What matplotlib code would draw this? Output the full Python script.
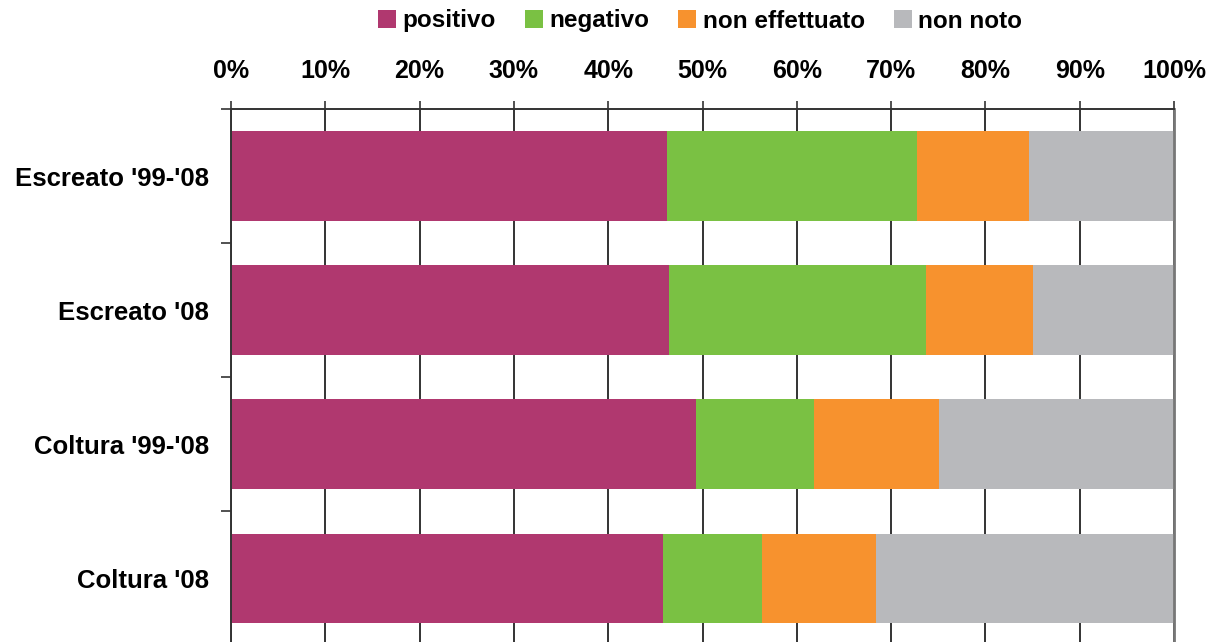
import numpy as np
import matplotlib
matplotlib.use("Agg")
import matplotlib.pyplot as plt
from matplotlib.patches import Patch

plt.rcParams['font.family'] = ['Liberation Sans', 'DejaVu Sans']
plt.rcParams['font.weight'] = 'bold'

# data (percent)
categories = ["Escreato '99-'08", "Escreato '08", "Coltura '99-'08", "Coltura '08"]
series_names = ["positivo", "negativo", "non effettuato", "non noto"]
positivo = [46.2, 46.4, 49.3, 45.8]
negativo = [26.5, 27.3, 12.5, 10.5]
non_effettuato = [11.9, 11.3, 13.3, 12.1]
non_noto = [15.4, 15.0, 24.9, 31.6]
colors = ["#B0386F", "#7AC143", "#F7922E", "#B8B9BC"]

values = [positivo, negativo, non_effettuato, non_noto]

fig = plt.figure(figsize=(12.13, 6.42), dpi=100)
ax = fig.add_axes([231 / 1213, -3.5 / 642, 943 / 1213, 536.5 / 642])

y = np.arange(len(categories))
left = np.zeros(len(categories))
for vals, name, col in zip(values, series_names, colors):
    ax.barh(y, vals, left=left, height=0.67, color=col, label=name, zorder=2)
    left += np.array(vals)

ax.set_xlim(0, 100)
ax.set_ylim(len(categories) - 0.5, -0.5)

# gridlines
ax.set_xticks(np.arange(0, 101, 10))
ax.set_xticklabels([f"{v}%" for v in range(0, 101, 10)])
ax.xaxis.tick_top()
ax.grid(axis='x', color='#333333', linewidth=1.4, zorder=1)
ax.set_axisbelow(True)
ax.tick_params(axis='x', which='major', direction='out', length=6, width=1.2,
               color='#333333', pad=13, labelsize=18)

ax.set_yticks(y)
ax.set_yticklabels(categories)
ax.set_yticks(np.arange(-0.5, len(categories) - 0.5, 1), minor=True)
ax.tick_params(axis='y', which='major', length=0, pad=16, labelsize=18.5)
ax.tick_params(axis='y', which='minor', direction='out', length=7, width=1.2, color='#333333')

for lab in ax.get_xticklabels() + ax.get_yticklabels():
    lab.set_fontweight('bold')

ax.spines['bottom'].set_visible(False)
ax.spines['left'].set_color('#333333')
ax.spines['left'].set_linewidth(1.4)
ax.spines['top'].set_color('#333333')
ax.spines['top'].set_linewidth(1.4)
ax.spines['right'].set_color('#777777')
ax.spines['right'].set_linewidth(2)

handles = [Patch(facecolor=c, edgecolor='none', label=n) for n, c in zip(series_names, colors)]
fig.legend(handles=handles, loc='center', bbox_to_anchor=(700 / 1213, 1 - 21 / 642),
           ncol=4, frameon=False, prop={'weight': 'bold', 'size': 17.5},
           handlelength=0.75, handleheight=0.75, handletextpad=0.25, columnspacing=1.2)

fig.savefig("out.png", dpi=100)
